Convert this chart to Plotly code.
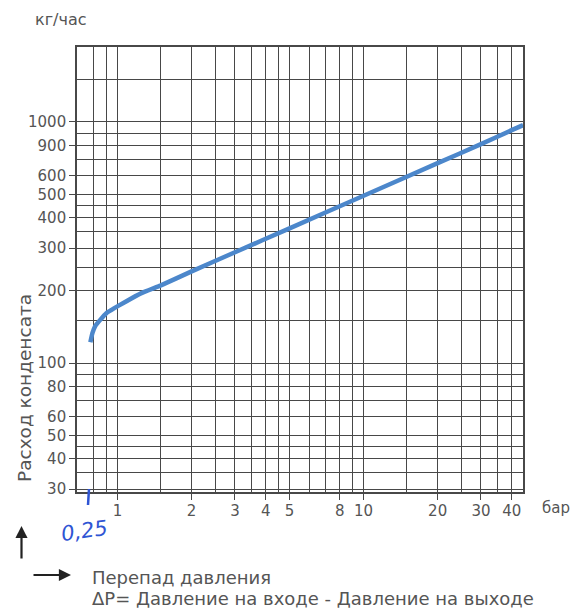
import plotly.graph_objects as go

# ---- data ----
dp_bar = [0.775, 0.79, 0.81, 0.85, 0.90, 0.97, 1.06, 1.25, 1.5, 2, 3, 5, 10, 20, 30, 40, 44.5]
flow_kg_h = [122, 133, 142, 151, 161, 169, 178, 195, 210, 240, 288, 362, 494, 675, 809, 925, 970]

x_tick_vals = [1, 2, 3, 4, 5, 8, 10, 20, 30, 40]
x_tick_text = ["1", "2", "3", "4", "5", "8", "10", "20", "30", "40"]
x_grid_vals = [0.8, 0.9, 1.5, 2.5, 3.5, 4.5, 6, 7, 9, 15, 25, 35]

y_tick_vals = [30, 40, 50, 60, 80, 100, 200, 300, 400, 500, 600, 800, 1000]
y_tick_text = ["30", "40", "50", "60", "80", "100", "200", "300", "400", "500", "600", "900", "1000"]
y_grid_vals = [35, 45, 70, 90, 150, 250, 350, 450, 700, 900, 1500]

GRID = "#484848"
TXT = "#555555"
FONT = "DejaVu Sans"

fig = go.Figure()
fig.add_trace(go.Scatter(
    x=dp_bar, y=flow_kg_h, mode="lines",
    line=dict(color="#4c87cb", width=4.5, shape="spline", smoothing=0.3),
    showlegend=False, hoverinfo="skip"))

axis_common = dict(
    type="log", showgrid=True, gridcolor=GRID, gridwidth=1.4,
    showline=True, linecolor=GRID, linewidth=1.6, mirror=True,
    ticks="outside", ticklen=6, tickcolor=GRID, tickwidth=1.4,
    tickfont=dict(family=FONT, size=15, color=TXT),
    zeroline=False, tickmode="array",
)

fig.update_xaxes(**axis_common, range=[-0.165, 1.648],
                 tickvals=x_tick_vals, ticktext=x_tick_text, ticklabelstandoff=-2,
                 minor=dict(tickmode="array", tickvals=x_grid_vals, showgrid=True,
                            gridcolor=GRID, gridwidth=1.4, ticks=""))
fig.update_yaxes(**axis_common, range=[1.465, 3.311],
                 tickvals=y_tick_vals, ticktext=y_tick_text,
                 minor=dict(tickmode="array", tickvals=y_grid_vals, showgrid=True,
                            gridcolor=GRID, gridwidth=1.4, ticks=""))

W, H = 573, 609
L, R, T, B = 77, 523, 47, 492


def px(x):
    return (x - L) / (R - L)


def py(y):
    return 1 - (y - T) / (B - T)


ann = [
    dict(text="кг/час", x=px(61), y=py(19), font=dict(size=16)),
    dict(text="Расход конденсата", x=px(24), y=py(388), textangle=-90, font=dict(size=18.5)),
    dict(text="бар", x=px(556), y=py(508), font=dict(size=15)),
    dict(text="Перепад давления", x=px(90), y=py(577), xanchor="left", font=dict(size=18)),
    dict(text="ΔP= Давление на входе - Давление на выходе", x=px(90), y=py(598),
         xanchor="left", font=dict(size=18)),
    dict(text="0,25", x=px(84), y=py(531), textangle=-8,
         font=dict(size=21, color="#2f55d4", family="DejaVu Sans", style="italic")),
]
annotations = []
for a in ann:
    f = dict(family=FONT, color=TXT)
    f.update(a.pop("font", {}))
    d = dict(xref="paper", yref="paper", showarrow=False, xanchor="center", yanchor="middle",
             font=f)
    d.update(a)
    annotations.append(d)

# arrows (decorations)
annotations.append(dict(xref="paper", yref="paper", x=px(21.5), y=py(526), ax=0, ay=34,
                        text="", showarrow=True, arrowhead=2, arrowsize=1.1,
                        arrowwidth=2.2, arrowcolor="#222222"))
annotations.append(dict(xref="paper", yref="paper", x=px(71), y=py(575), ax=-39, ay=0,
                        text="", showarrow=True, arrowhead=2, arrowsize=1.1,
                        arrowwidth=2.2, arrowcolor="#222222"))

shapes = [dict(type="line", xref="paper", yref="paper",
               x0=px(89), y0=py(489), x1=px(88), y1=py(505),
               line=dict(color="#2f55d4", width=2.5))]

fig.update_layout(
    width=W, height=H,
    margin=dict(l=L, r=W - R, t=T, b=H - B, pad=0),
    paper_bgcolor="white", plot_bgcolor="white",
    annotations=annotations, shapes=shapes,
)

fig.write_html("out.html", config={"displayModeBar": False},
               post_script="document.body.style.margin='0';document.body.style.overflow='hidden';")
